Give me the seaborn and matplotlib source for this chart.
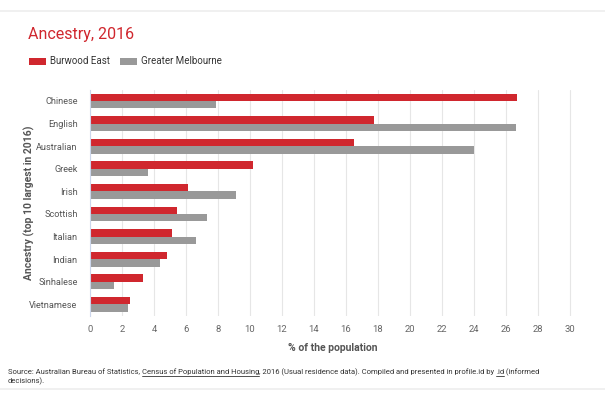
import pandas as pd
import matplotlib.pyplot as plt
import seaborn as sns
from matplotlib.patches import Rectangle

# ancestry categories and % of population
ancestries = ["Chinese", "English", "Australian", "Greek", "Irish",
              "Scottish", "Italian", "Indian", "Sinhalese", "Vietnamese"]
burwood_east = [26.7, 17.75, 16.5, 10.2, 6.15, 5.45, 5.1, 4.8, 3.3, 2.5]
greater_melbourne = [7.9, 26.6, 24.0, 3.6, 9.15, 7.3, 6.65, 4.4, 1.5, 2.35]
areas = ["Burwood East", "Greater Melbourne"]
x_ticks = list(range(0, 31, 2))

RED = "#d0272e"
GREY = "#999999"

df = pd.DataFrame({
    "ancestry": ancestries * 2,
    "area": [areas[0]] * len(ancestries) + [areas[1]] * len(ancestries),
    "pct": burwood_east + greater_melbourne,
})

sns.set_style("white")
plt.rcParams["font.family"] = ["Roboto", "DejaVu Sans"]

fig = plt.figure(figsize=(6.05, 3.98), dpi=100)
W, H = 605, 398

# card shadow lines top / bottom
fig.add_artist(Rectangle((0, 1 - 12 / H), 1, 2 / H, transform=fig.transFigure,
                         color="#f0f0f0", lw=0))
fig.add_artist(Rectangle((0, 1 - 390 / H), 1, 2 / H, transform=fig.transFigure,
                         color="#f0f0f0", lw=0))

ax = fig.add_axes([90 / W, 1 - 315.7 / H, 486.4 / W, 226 / H])
sns.barplot(data=df, y="ancestry", x="pct", hue="area", order=ancestries,
            hue_order=areas, palette=[RED, GREY], width=0.66, dodge=True,
            gap=0, saturation=1, orient="h", ax=ax, legend=False,
            linewidth=0, edgecolor="none")

ax.set_xlim(0, 30.4)
ax.set_ylim(9.5, -0.5)
ax.set_xticks(x_ticks)
ax.set_xticklabels([str(t) for t in x_ticks], fontsize=6.8, color="#666666")
ax.tick_params(axis="y", labelsize=6.6, labelcolor="#555555", length=5,
               color="#ccd6eb", width=0.8, pad=4)
ax.tick_params(axis="x", length=0, pad=7)
ax.grid(axis="x", color="#e6e6e6", lw=0.8)
ax.set_axisbelow(True)
for s in ["top", "right", "bottom"]:
    ax.spines[s].set_visible(False)
ax.spines["left"].set_color("#ccd6eb")
ax.spines["left"].set_linewidth(0.8)

ax.set_xlabel("% of the population", fontsize=7.5, fontweight="bold",
              color="#555555", labelpad=6)
ax.set_ylabel("Ancestry (top 10 largest in 2016)", fontsize=7.5,
              fontweight="bold", color="#555555", labelpad=8)
ax.yaxis.set_label_coords(-55 / 486.4, 0.5)

# title
fig.text(28 / W, 1 - 35 / H, "Ancestry, 2016", fontsize=11.5, color=RED,
         va="center", ha="left")

# legend
for px, col, lab in [(29, RED, areas[0]), (120, GREY, areas[1])]:
    fig.add_artist(Rectangle((px / W, 1 - 65 / H), 17 / W, 7 / H,
                             transform=fig.transFigure, color=col, lw=0))
    fig.text((px + 21) / W, 1 - 61.5 / H, lab, fontsize=7, color="#333333",
             va="center", ha="left")

# source footer with underlined links
fig.canvas.draw()
renderer = fig.canvas.get_renderer()
pieces = [("Source: Australian Bureau of Statistics, ", False),
          ("Census of Population and Housing", True),
          (", 2016 (Usual residence data). Compiled and presented in profile.id by ", False),
          (".id", True),
          (" (informed", False)]
x = 8 / W
y = 1 - 372 / H
for txt, under in pieces:
    t = fig.text(x, y, txt, fontsize=5.5, color="#333333", va="center", ha="left")
    bb = t.get_window_extent(renderer).transformed(fig.transFigure.inverted())
    if under:
        fig.add_artist(plt.Line2D([bb.x0, bb.x1], [bb.y0 - 1 / H, bb.y0 - 1 / H],
                                  transform=fig.transFigure, color="#333333", lw=0.6))
    x = bb.x1
fig.text(8 / W, 1 - 381 / H, "decisions).", fontsize=5.5, color="#333333",
         va="center", ha="left")

fig.savefig("out.png", dpi=100)
